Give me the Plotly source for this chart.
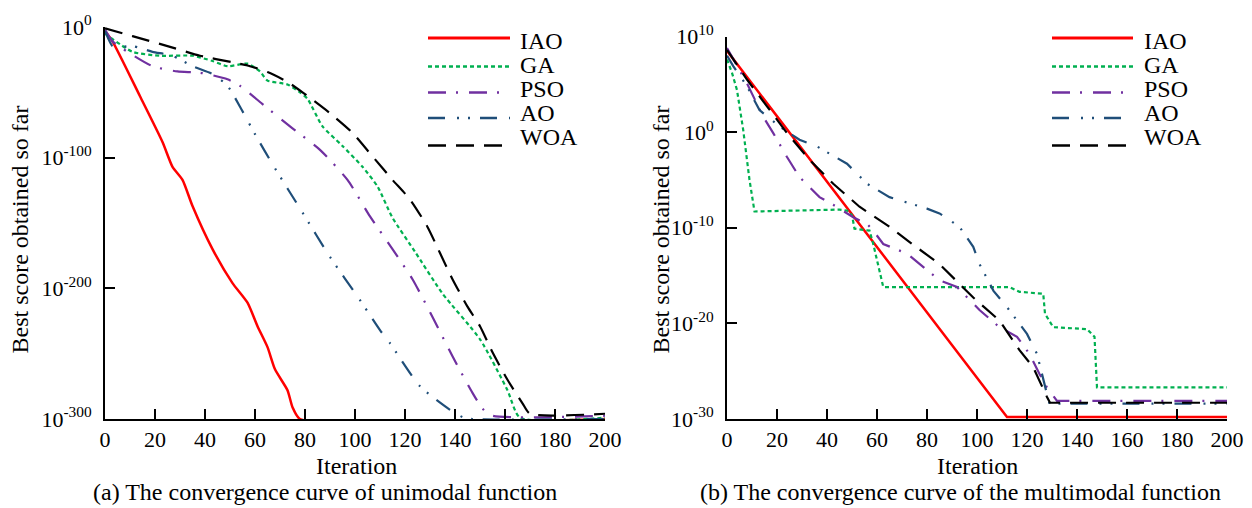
import plotly.graph_objects as go

# values are log10(best score so far)

# ---- (a) unimodal function ----
uni_iao_x = [0, 3, 14, 23, 27, 31, 35, 43, 51, 57, 61, 65, 68, 73, 75, 78, 200]
uni_iao_log = [-3, -11, -53, -88, -107, -117, -137, -170, -196, -211, -229, -245, -262,
               -278, -291, -300, -300]

uni_ga_x = [0, 11, 22, 35, 43, 49, 57, 62, 65, 73, 78, 81, 87, 95, 103, 109, 115, 124,
            135, 150, 161, 166, 200]
uni_ga_log = [-5, -19, -22, -22, -26, -30, -28, -34, -41, -44, -50, -55, -76, -91, -107,
              -122, -146, -172, -204, -239, -278, -299, -299]

uni_pso_x = [0, 3, 9, 19, 29, 38, 49, 54, 63, 74, 86, 97, 106, 115, 123, 131, 139, 147,
             151, 155, 200]
uni_pso_log = [-2, -11, -19, -30, -34, -35, -40, -45, -59, -76, -94, -117, -145, -170,
               -193, -222, -252, -280, -292, -297.5, -297.5]

uni_ao_x = [0, 3, 6, 11, 19, 27, 35, 43, 49, 54, 60, 67, 79, 90, 102, 110, 114, 126, 138,
            143, 147, 200]
uni_ao_log = [-3, -14.6, -15.3, -14.6, -19, -22, -30, -36, -45, -61, -82, -105, -142, -176,
              -209, -232, -242, -275, -293, -298.5, -300, -300]

uni_woa_x = [0, 11, 25, 38, 51, 58, 65, 73, 79, 90, 99, 107, 115, 122, 129, 134, 139, 145,
             150, 155, 161, 167, 170, 200]
uni_woa_log = [-1, -7, -14.6, -22, -27, -30, -34.5, -42, -50, -66, -81, -99, -117, -132,
               -153, -173, -193, -214, -229, -249, -270, -288, -296, -296]

# ---- (b) multimodal function ----
mul_iao_x = [0, 112, 200]
mul_iao_log = [8.5, -29.8, -29.8]

mul_ga_x = [0, 2, 4, 6.5, 9, 11, 45, 48, 50, 51, 57, 58.5, 62.5, 113, 117, 126.5, 127.2,
            130.5, 144, 147, 148, 200]
mul_ga_log = [7.6, 6.2, 4.4, 0.2, -5, -8.3, -8.1, -8.2, -8.7, -10.1, -10.3, -11.7, -16.2,
              -16.2, -16.7, -16.9, -19, -20.4, -20.6, -21.4, -26.7, -26.7]

mul_pso_x = [0, 8, 14.5, 18.5, 24, 29, 37, 42.5, 50.5, 56, 58.5, 62.5, 72, 77, 85, 92,
             101, 109, 116, 121, 125, 128, 132, 200]
mul_pso_log = [8.8, 5.1, 1.6, -0.1, -2.6, -4.7, -6.8, -7.6, -8.9, -9.6, -10.3, -11.7, -12.7,
               -13.8, -15.5, -16.2, -18.6, -20.4, -21.4, -23.2, -25.3, -26.7, -28.1, -28.1]

mul_ao_x = [0, 2.5, 8, 13, 21, 29, 36, 48, 56, 65, 80, 85, 93, 98.5, 101, 106.6, 112, 120,
            124, 126.5, 128, 129, 200]
mul_ao_log = [8, 6.9, 4.8, 2.3, 0.6, -0.8, -1.5, -3.3, -5.4, -6.8, -8.0, -8.5, -9.9, -12,
              -13.8, -16.6, -18.3, -21.1, -23.2, -26, -27.4, -28.4, -28.4]

mul_woa_x = [0, 8, 16, 24, 33, 42.5, 53, 65, 72, 85, 98.5, 109, 117, 122.5, 128, 129.2, 200]
mul_woa_log = [8.6, 5.5, 2.7, -0.1, -2.9, -5.4, -7.8, -9.9, -11.3, -13.8, -17.3, -19.7,
               -22.8, -24.6, -27.7, -28.3, -28.3]

names = ["IAO", "GA", "PSO", "AO", "WOA"]
colors = ["#FF0000", "#00B050", "#7030A0", "#1F4E79", "#000000"]
dashes = ["solid", "4px,3px", "18px,10px,2px,11px", "17px,12px,2px,9px,2px,10px",
          "18px,10px"]
widths = [2.5, 2.2, 2.2, 2.2, 2.2]

FONT = "Liberation Serif, Times New Roman, serif"

# the page body has an 8px margin, so the figure is made that much smaller
OFF = 8
FW, FH = 1252 - OFF, 508 - OFF


def px(x):
    return (x - OFF) / FW


def py(y):
    return 1 - (y - OFF) / FH


uni = [(uni_iao_x, uni_iao_log), (uni_ga_x, uni_ga_log), (uni_pso_x, uni_pso_log),
       (uni_ao_x, uni_ao_log), (uni_woa_x, uni_woa_log)]
mul = [(mul_iao_x, mul_iao_log), (mul_ga_x, mul_ga_log), (mul_pso_x, mul_pso_log),
       (mul_ao_x, mul_ao_log), (mul_woa_x, mul_woa_log)]

fig = go.Figure()

for i, (x, lg) in enumerate(uni):
    fig.add_trace(go.Scatter(
        x=x, y=[10.0 ** v for v in lg], name=names[i], mode="lines",
        line=dict(color=colors[i], width=widths[i], dash=dashes[i],
                  shape="spline", smoothing=0.6),
        xaxis="x", yaxis="y", showlegend=False
    ))

for i, (x, lg) in enumerate(mul):
    fig.add_trace(go.Scatter(
        x=x, y=[10.0 ** v for v in lg], name=names[i], mode="lines",
        line=dict(color=colors[i], width=widths[i], dash=dashes[i]),
        xaxis="x2", yaxis="y2", showlegend=False
    ))

axis_common = dict(
    showline=True, linecolor="black", linewidth=2,
    ticks="inside", ticklen=10, tickwidth=2, tickcolor="black",
    showgrid=False, zeroline=False, automargin=False,
    tickfont=dict(family=FONT, size=22, color="black"),
)

xticks = list(range(0, 201, 20))

fig.update_layout(
    width=FW, height=FH,
    margin=dict(l=0, r=0, t=0, b=0),
    paper_bgcolor="white", plot_bgcolor="white",
    font=dict(family=FONT, size=22, color="black"),
    showlegend=False,
    xaxis=dict(domain=[px(105), px(605)], range=[0, 200], tickvals=xticks,
               anchor="y", **axis_common),
    yaxis=dict(domain=[py(419), py(27)], type="log", range=[-300, 0],
               tickvals=[1e-300, 1e-200, 1e-100, 1],
               ticktext=["10<sup>-300</sup>", "10<sup>-200</sup>",
                         "10<sup>-100</sup>", "10<sup>0</sup>"],
               ticklabelstandoff=7, anchor="x", **axis_common),
    xaxis2=dict(domain=[px(727), px(1227)], range=[0, 200], tickvals=xticks,
                anchor="y2", **axis_common),
    yaxis2=dict(domain=[py(419), py(36.5)], type="log", range=[-30, 10],
                tickvals=[1e-30, 1e-20, 1e-10, 1, 1e10],
                ticktext=["10<sup>-30</sup>", "10<sup>-20</sup>", "10<sup>-10</sup>",
                          "10<sup>0</sup>", "10<sup>10</sup>"],
                ticklabelstandoff=7, anchor="x2", **axis_common),
)

# legends drawn by hand so the row spacing matches the original
leg_line_y = [38, 66.5, 92.5, 118, 145.5]
leg_text_y = [41, 65, 88.5, 113, 137]
for x0, x1, tx in [(428, 510, 518), (1052, 1133, 1142)]:
    for i in range(5):
        fig.add_shape(type="line", xref="paper", yref="paper",
                      x0=px(x0), x1=px(x1), y0=py(leg_line_y[i]), y1=py(leg_line_y[i]),
                      line=dict(color=colors[i], width=widths[i] + 0.3, dash=dashes[i]))
        fig.add_annotation(xref="paper", yref="paper", showarrow=False,
                           x=px(tx), y=py(leg_text_y[i]), xanchor="left", yanchor="middle",
                           text=names[i], font=dict(family=FONT, size=24, color="black"))

annots = [
    dict(text="Iteration", x=px(356), y=py(466)),
    dict(text="Iteration", x=px(977), y=py(466)),
    dict(text="(a) The convergence curve of unimodal function", x=px(324.5), y=py(492)),
    dict(text="(b) The convergence curve of the multimodal function", x=px(961), y=py(492)),
    dict(text="Best score obtained so far", x=px(19), y=py(229.5), textangle=-90),
    dict(text="Best score obtained so far", x=px(660), y=py(229.5), textangle=-90),
]
for a in annots:
    fig.add_annotation(xref="paper", yref="paper", showarrow=False,
                       xanchor="center", yanchor="middle",
                       font=dict(family=FONT, size=24, color="black"), **a)

fig.write_html("out.html")
